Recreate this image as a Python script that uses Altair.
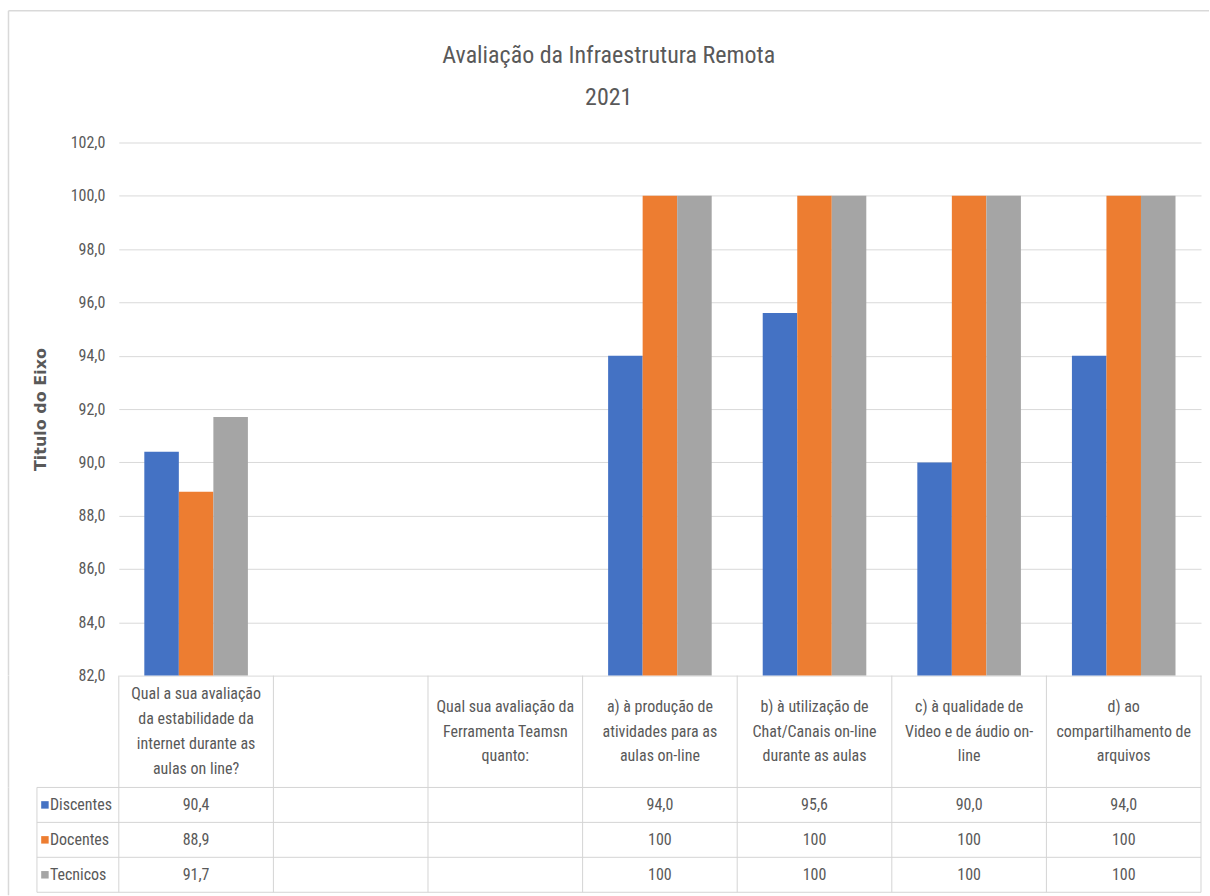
import altair as alt
import pandas as pd

# ---- data -----------------------------------------------------------------
cat_ids = ["q1", "blank", "q2", "a", "b", "c", "d"]
header_lines = [
    ["Qual a sua avaliação", "da estabilidade da", "internet durante as", "aulas on line?"],
    [""],
    ["Qual sua avaliação da", "Ferramenta Teamsn", "quanto:"],
    ["a) à produção de", "atividades para as", "aulas on-line"],
    ["b) à utilização de", "Chat/Canais on-line", "durante as aulas"],
    ["c) à qualidade de", "Video e de áudio on-", "line"],
    ["d) ao", "compartilhamento de", "arquivos"],
]
series = ["Discentes", "Docentes", "Tecnicos"]
colors = ["#4472C4", "#ED7D31", "#A5A5A5"]
discentes = [90.4, None, None, 94.0, 95.6, 90.0, 94.0]
docentes = [88.9, None, None, 100, 100, 100, 100]
tecnicos = [91.7, None, None, 100, 100, 100, 100]
y_ticks = [82, 84, 86, 88, 90, 92, 94, 96, 98, 100, 102]
y_min, y_max = 82, 102

title_lines = ["Avaliação da Infraestrutura Remota", "2021"]
axis_title = "Titulo do Eixo"

# ---- layout constants -----------------------------------------------------
W = 1084          # plot / table width
H_PLOT = 534
H_HEAD = 112
H_ROWS = 105
LINE_H = 25
FONT = "Liberation Sans Narrow, Roboto Condensed, Roboto, sans-serif"
TXT = "#595959"
GRID = "#D9D9D9"
LINE = "#D4D4D4"
FRAME = "#D9D9D9"

rows = []
for name, vals in zip(series, [discentes, docentes, tecnicos]):
    for cid, v in zip(cat_ids, vals):
        if v is not None:
            rows.append({"cat": cid, "series": name, "value": v})
long_df = pd.DataFrame(rows)
head_df = pd.DataFrame({
    "cat": cat_ids,
    "header": ["\n".join(l) for l in header_lines],
    "nlines": [len(l) for l in header_lines],
})
series_df = pd.DataFrame({"series": series})
one = pd.DataFrame({"k": [0]})

color_scale = alt.Scale(domain=series, range=colors)
cell_x = alt.Scale(domain=cat_ids, paddingInner=0, paddingOuter=0)

# ---- bar chart ------------------------------------------------------------
bars = alt.Chart(long_df).mark_bar().encode(
    x=alt.X("cat:N", scale=alt.Scale(domain=cat_ids, paddingInner=0.33, paddingOuter=0.165), axis=None),
    xOffset=alt.XOffset("series:N", scale=alt.Scale(domain=series, paddingInner=0)),
    y=alt.Y(
        "value:Q",
        scale=alt.Scale(domain=[y_min, y_max], zero=False, nice=False),
        axis=alt.Axis(
            values=y_ticks,
            labelExpr="replace(format(datum.value, '.1f'), '.', ',')",
            domain=False,
            ticks=False,
            grid=True,
            gridColor=GRID,
            gridWidth=1,
            labelPadding=14,
            labelColor=TXT,
            labelFont=FONT,
            labelFontSize=16,
            title=axis_title,
            titleFont="DejaVu Sans",
            titleFontSize=16,
            titleFontWeight="bold",
            titleColor=TXT,
            titleX=-78,
            titleY=H_PLOT / 2,
            titleAngle=270,
            titleAlign="center",
            titleBaseline="middle",
        ),
    ),
    y2=alt.datum(y_min),
    color=alt.Color("series:N", scale=color_scale, legend=None),
)

frame_top = alt.Chart(one).mark_rule(color=FRAME, strokeWidth=1.5).encode(
    x=alt.value(-110.5), x2=alt.value(1092), y=alt.value(-132)
)
frame_left_1 = alt.Chart(one).mark_rule(color=FRAME, strokeWidth=1.5).encode(
    x=alt.value(-110.5), y=alt.value(-132), y2=alt.value(H_PLOT)
)

plot = alt.layer(bars, frame_top, frame_left_1).properties(width=W, height=H_PLOT)

# ---- table header row -----------------------------------------------------
# multi-line headers are centred vertically in their cell
head_text = alt.Chart(head_df).transform_calculate(
    ty=f"{H_HEAD / 2} - (datum.nlines - 1) * {LINE_H / 2}"
).mark_text(
    font=FONT, fontSize=16, color=TXT, lineBreak="\n", lineHeight=LINE_H,
    align="center", baseline="middle",
).encode(
    x=alt.X("cat:N", scale=cell_x, axis=None),
    y=alt.Y("ty:Q", scale=None),
    text="header:N",
)
head_vlines = alt.Chart(head_df).mark_rule(color=LINE).encode(
    x=alt.X("cat:N", scale=cell_x, axis=None, bandPosition=0),
    y=alt.value(0), y2=alt.value(H_HEAD),
)
head_right = alt.Chart(one).mark_rule(color=LINE).encode(
    x=alt.value(W), y=alt.value(0), y2=alt.value(H_HEAD)
)
frame_left_2 = alt.Chart(one).mark_rule(color=FRAME, strokeWidth=1.5).encode(
    x=alt.value(-110.5), y=alt.value(0), y2=alt.value(H_HEAD)
)
header = alt.layer(head_vlines, head_right, head_text, frame_left_2).properties(width=W, height=H_HEAD)

# ---- table value rows -----------------------------------------------------
row_y = alt.Scale(domain=series, paddingInner=0, paddingOuter=0)

row_hlines = alt.Chart(series_df).mark_rule(color=LINE).encode(
    y=alt.Y("series:N", scale=row_y, axis=None, bandPosition=0),
    x=alt.value(-82), x2=alt.value(W),
)
row_bottom = alt.Chart(one).mark_rule(color=LINE).encode(
    y=alt.value(H_ROWS), x=alt.value(-82), x2=alt.value(W)
)
row_vlines = alt.Chart(head_df).mark_rule(color=LINE).encode(
    x=alt.X("cat:N", scale=cell_x, axis=None, bandPosition=0),
    y=alt.value(0), y2=alt.value(H_ROWS),
)
row_edges = alt.Chart(pd.DataFrame({"px": [-82, W]})).mark_rule(color=LINE).encode(
    x=alt.X("px:Q", scale=None), y=alt.value(0), y2=alt.value(H_ROWS)
)
swatch = alt.Chart(series_df).mark_square(size=56, opacity=1).encode(
    x=alt.value(-74),
    y=alt.Y("series:N", scale=row_y, axis=None),
    color=alt.Color("series:N", scale=color_scale, legend=None),
)
row_names = alt.Chart(series_df).mark_text(
    font=FONT, fontSize=16, color=TXT, align="left", baseline="middle"
).encode(
    x=alt.value(-69),
    y=alt.Y("series:N", scale=row_y, axis=None),
    text="series:N",
)
cell_values = alt.Chart(long_df).transform_calculate(
    label="datum.value == 100 ? '100' : replace(format(datum.value, '.1f'), '.', ',')"
).mark_text(
    font=FONT, fontSize=16, color=TXT, align="center", baseline="middle"
).encode(
    x=alt.X("cat:N", scale=cell_x, axis=None),
    y=alt.Y("series:N", scale=row_y, axis=None),
    text="label:N",
)
frame_left_3 = alt.Chart(one).mark_rule(color=FRAME, strokeWidth=1.5).encode(
    x=alt.value(-110.5), y=alt.value(0), y2=alt.value(108)
)
table = alt.layer(
    row_hlines, row_bottom, row_vlines, row_edges, swatch, row_names, cell_values, frame_left_3
).properties(width=W, height=H_ROWS)

chart = alt.vconcat(plot, header, table, spacing=0, bounds="flush").resolve_scale(
    x="independent", y="independent", color="shared"
).properties(
    title=alt.TitleParams(
        text=title_lines, font=FONT, fontSize=24, fontWeight="normal", color=TXT,
        lineHeight=42, anchor="middle", offset=-100,
    ),
    padding={"left": 7, "top": 9, "right": 0, "bottom": 0},
    background="white",
).configure_view(stroke=None)

chart.save("out.html", embed_options={"renderer": "svg", "actions": False})
